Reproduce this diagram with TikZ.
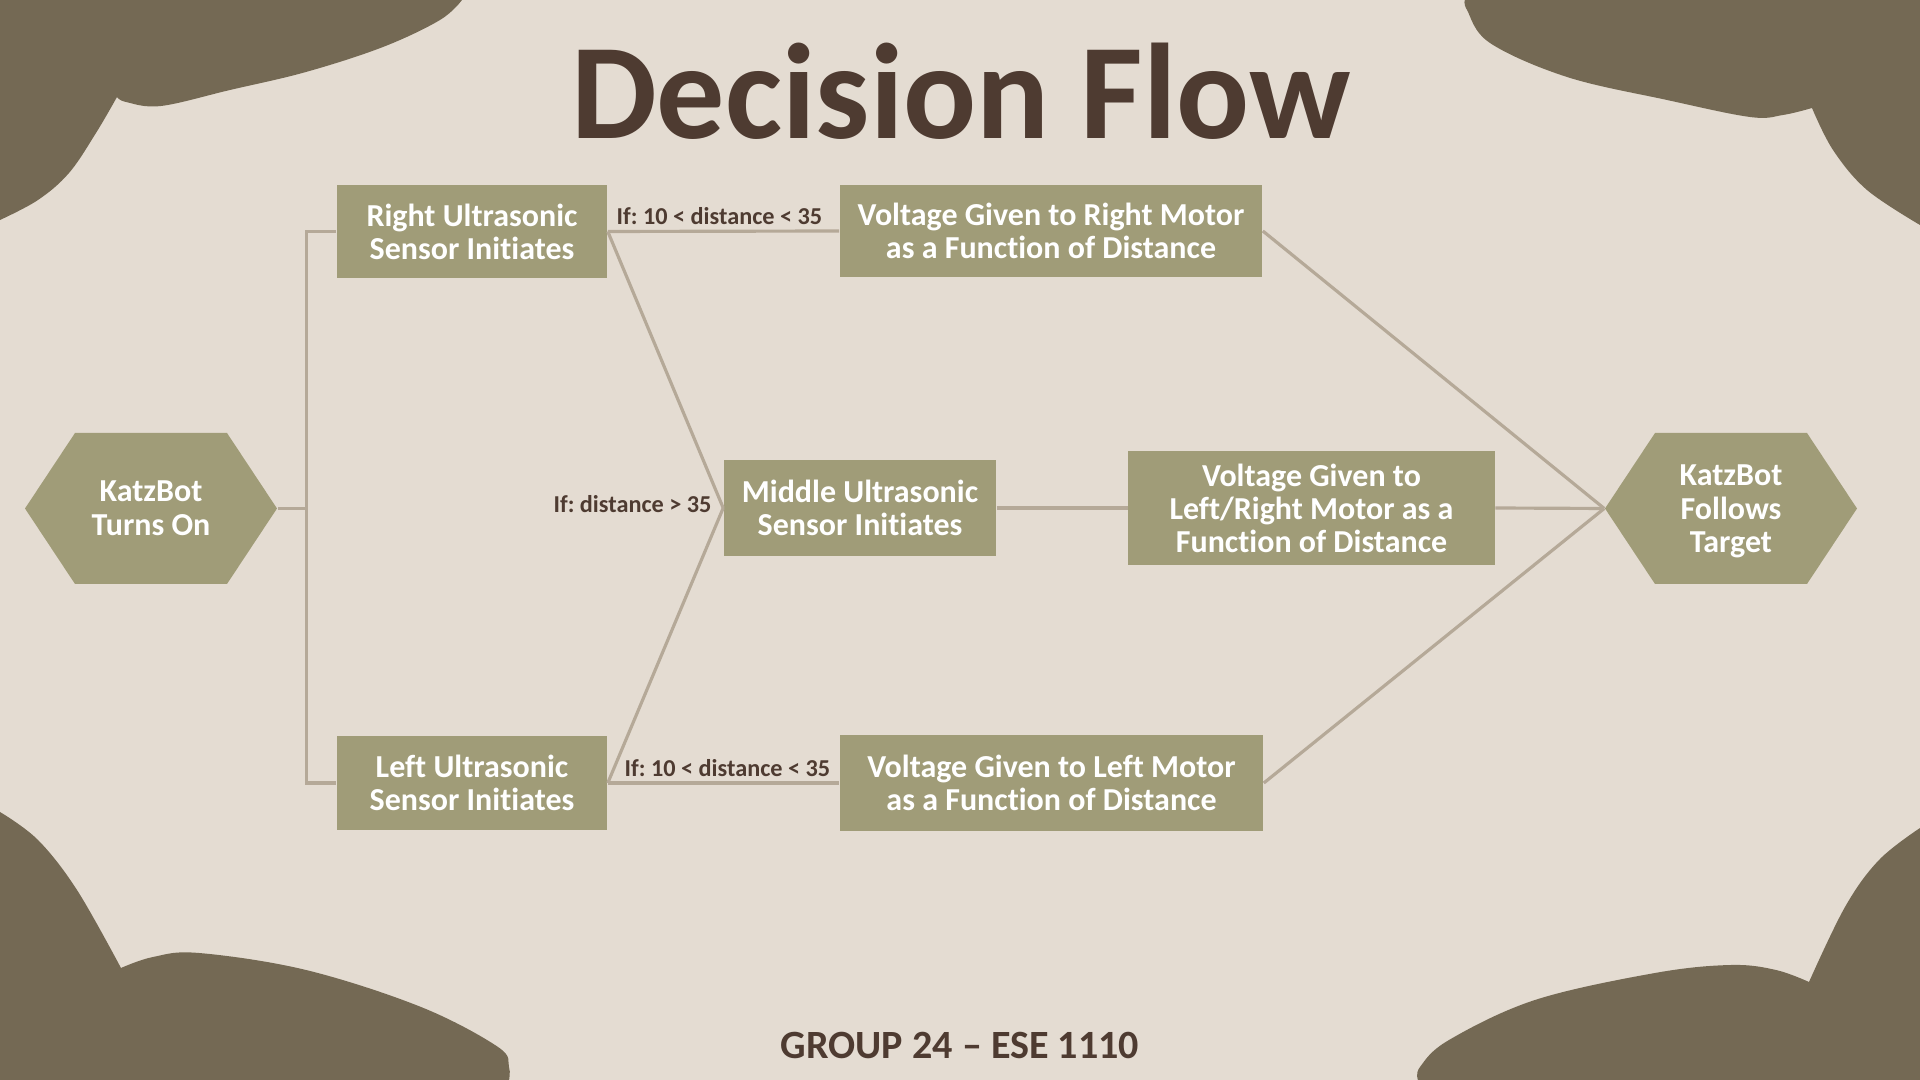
\documentclass[tikz,border=0pt]{standalone}
\usepackage{fontspec}
\setmainfont{Carlito}[Ligatures=NoCommon]
\usetikzlibrary{calc}
\frenchspacing
\definecolor{bgc}{HTML}{E4DCD2}
\definecolor{blobc}{HTML}{746954}
\definecolor{boxc}{HTML}{A09C78}
\definecolor{linec}{HTML}{B5A998}
\definecolor{darkc}{HTML}{4E3B31}
\tikzset{
  box/.style={fill=boxc, text=white, font=\bfseries\fontsize{9.1}{9.4}\selectfont, align=center, inner sep=0pt},
  hexnode/.style={text=white, font=\bfseries\fontsize{9.1}{9.6}\selectfont, align=center, inner sep=0pt, minimum width=2.52cm, minimum height=1.51cm},
  conn/.style={draw=linec, line width=0.9pt},
  lbl/.style={text=darkc, font=\bfseries\fontsize{6.9}{8}\selectfont, inner sep=0pt},
  blob/.style={fill=blobc}
}
\begin{document}
\frenchspacing
\begin{tikzpicture}[x=0.01cm,y=-0.01cm]
\fill[bgc] (0,0) rectangle (1920,1080);
\useasboundingbox (0,0) rectangle (1920,1080);
% corner blobs
\fill[blob] (0,0) -- plot[smooth, tension=0.6] coordinates {(462,0) (440,20) (383,47) (306,72) (230,90) (161,106) (126,102) (117,97)}
  -- plot[smooth, tension=0.6] coordinates {(117,97) (96,133) (69,173) (38,200) (0,220)} -- cycle;
\fill[blob] (1920,0) -- plot[smooth, tension=0.6] coordinates {(1465,0) (1467,10) (1490,43) (1567,77) (1667,100) (1750,117) (1783,115) (1812,108)}
  -- plot[smooth, tension=0.6] coordinates {(1812,108) (1833,150) (1867,190) (1920,225)} -- cycle;
\fill[blob] (0,1080) -- plot[smooth, tension=0.6] coordinates {(0,812) (38,840) (77,890) (121,968)}
  -- plot[smooth, tension=0.6] coordinates {(121,968) (153,957) (199,953) (306,970) (421,1007) (498,1047) (509,1067) (509,1080)} -- cycle;
\fill[blob] (1920,1080) -- plot[smooth, tension=0.6] coordinates {(1418,1080) (1420,1067) (1449,1040) (1535,1000) (1655,973) (1731,965) (1776,970) (1809,982)}
  -- plot[smooth, tension=0.6] coordinates {(1809,982) (1845,907) (1879,860) (1920,828)} -- cycle;

% title and footer
\node[text=darkc, font=\bfseries\fontsize{38.7}{40}\selectfont, anchor=base, inner sep=0pt] (title) at (961,139) {Decision Flow};
\node[text=darkc, font=\bfseries\fontsize{11.4}{13}\selectfont, anchor=base, inner sep=0pt] (footer) at (960,1059) {GROUP 24 – ESE 1110};

% hexagons
\fill[boxc] (25,508.5) -- (75,433) -- (227,433) -- (277,508.5) -- (227,584) -- (75,584) -- cycle;
\node[hexnode] (T) at (151,508.5) {KatzBot\\Turns On};
\fill[boxc] (1605,508.5) -- (1655,433) -- (1807,433) -- (1857,508.5) -- (1807,584) -- (1655,584) -- cycle;
\node[hexnode] (F) at (1731,508.5) {};
\node[hexnode, font=\bfseries\fontsize{9.1}{9.6}\selectfont] (Ftext) at ($(F.center)+(0,3)$) {KatzBot\\Follows\\Target};

% boxes
\node[box, minimum width=2.70cm, minimum height=0.93cm] (R1) at (472,231.5) {Right Ultrasonic\\Sensor Initiates};
\node[box, minimum width=2.70cm, minimum height=0.94cm] (L1) at (472,783) {Left Ultrasonic\\Sensor Initiates};
\node[box, minimum width=2.72cm, minimum height=0.96cm] (M) at (860,508) {Middle Ultrasonic\\Sensor Initiates};
\node[box, minimum width=4.22cm, minimum height=0.92cm] (VR) at (1051,231) {Voltage Given to Right Motor\\as a Function of Distance};
\node[box, minimum width=4.23cm, minimum height=0.95cm] (VL) at (1051.5,783) {Voltage Given to Left Motor\\as a Function of Distance};
\node[box, minimum width=3.66cm, minimum height=1.13cm] (VM) at (1311.5,508) {Voltage Given to\\Left/Right Motor as a\\Function of Distance};

% connectors
\coordinate (bus) at (306.5,508.5);
\draw[conn] (T.east) -- (bus);
\draw[conn] (R1.west) -| (bus) |- (L1.west);
\draw[conn] (R1.east) -- (VR.west);
\draw[conn] (L1.east) -- (VL.west);
\draw[conn] (R1.east) -- (M.west);
\draw[conn] (L1.east) -- (M.west);
\draw[conn] (M.east) -- (VM.west);
\draw[conn] (VR.east) -- (F.west);
\draw[conn] (VM.east) -- (F.west);
\draw[conn] (VL.east) -- (F.west);

% labels
\node[lbl, anchor=base] (lab1) at ($(R1.east)!0.5!(VR.west)+(-4,-7)$) {If: 10 < distance < 35};
\node[lbl, anchor=base] (lab2) at ($(L1.east)!0.5!(VL.west)+(4,-6)$) {If: 10 < distance < 35};
\node[lbl, anchor=base east] (lab3) at ($(M.west)+(-11,5)$) {If: distance > 35};
\end{tikzpicture}
\end{document}
